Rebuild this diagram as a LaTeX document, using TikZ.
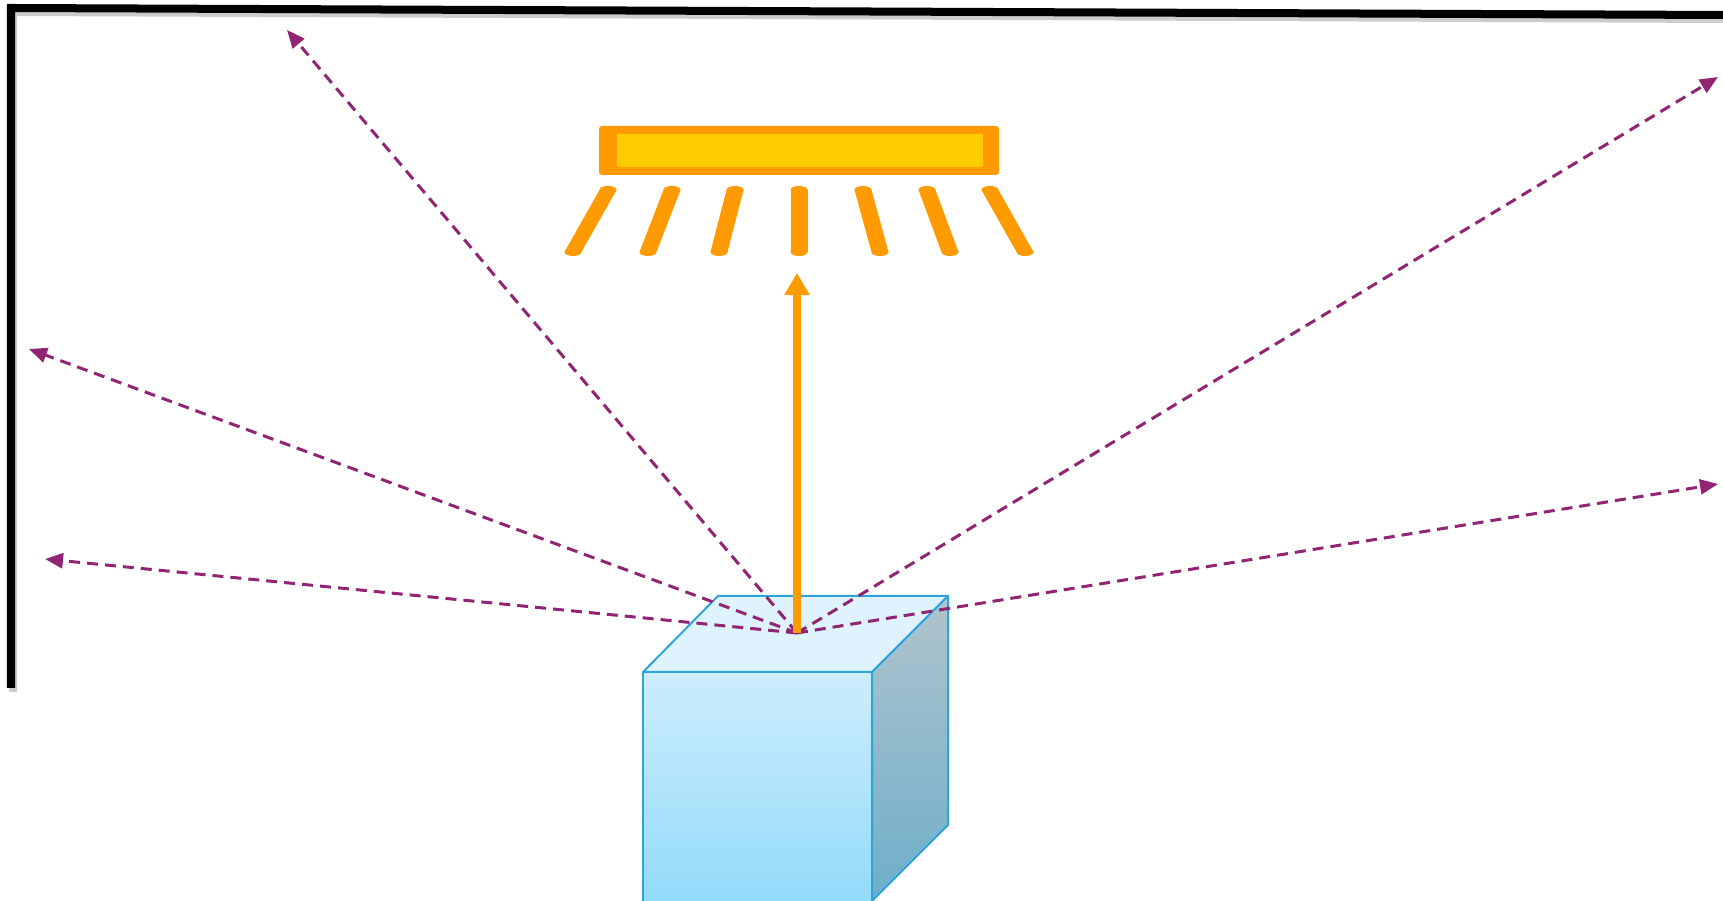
\documentclass[tikz,border=0pt]{standalone}
\usetikzlibrary{arrows.meta}
\definecolor{lamporange}{RGB}{255,154,0}
\definecolor{lampyellow}{RGB}{255,204,0}
\definecolor{raypurple}{RGB}{145,36,115}
\definecolor{cubeedge}{RGB}{46,165,216}
\definecolor{fronttop}{RGB}{205,237,252}
\definecolor{frontbot}{RGB}{146,219,251}
\definecolor{topface}{RGB}{222,243,253}
\definecolor{sidetop}{RGB}{176,196,204}
\definecolor{sidebot}{RGB}{110,174,203}

\begin{document}
\begin{tikzpicture}[x=0.01cm, y=-0.01cm,
      wall/.style={line width=0.08cm, line join=miter},
      reflect/.style={raypurple, line width=0.03cm, dash pattern=on 0.11cm off 0.07cm,
        -{Triangle[length=0.18cm,width=0.15cm]}},
      beam/.style={lamporange, line width=0.08cm, -{Triangle[length=0.22cm,width=0.24cm]}},
      face/.style={draw=cubeedge, line width=0.02cm, line join=round}]
      \useasboundingbox (0,0) rectangle (1723,901);
      \clip (0,0) rectangle (1723,901);

      % wall and ceiling
      \draw[wall, black!20, shift={(2,4)}] (11,688) -- (11,8) -- (1723,15);
      \draw[wall] (11,688) -- (11,8) -- (1723,15);

      % lamp
      \fill[lamporange, rounded corners=0.03cm] (599,126) rectangle (999,175);
      \fill[lampyellow] (617,134) rectangle (983,167);
      \foreach \t/\b in {608/573, 672/648, 735/719, 799/799, 863/880, 927/950, 990/1025} {
        \fill[lamporange] (\t-8.5,190) -- (\t+8.5,190) -- (\b+8.5,252) -- (\b-8.5,252) -- cycle;
        \fill[lamporange] (\t,190) ellipse (0.085cm and 0.04cm);
        \fill[lamporange] (\b,252) ellipse (0.085cm and 0.04cm);
      }

      % cube
      \shade[face, top color=fronttop, bottom color=frontbot] (643,672) rectangle (872,905);
      \fill[topface] (643,672) -- (718,596) -- (948,596) -- (872,672) -- cycle;
      \draw[face] (643,672) -- (718,596) -- (948,596) -- (872,672) -- cycle;
      \shade[face, top color=sidetop, bottom color=sidebot] (872,672) -- (948,596) -- (948,825) -- (872,901) -- cycle;
      \draw[face] (643,905) -- (643,672) -- (872,672) -- (872,905);

      \coordinate (src) at (797,633);
      \coordinate (lamp) at (797,273);
      \coordinate (ul) at (287,30);
      \coordinate (l) at (29,349);
      \coordinate (ll) at (45,559);
      \coordinate (ur) at (1718,77);
      \coordinate (r) at (1718,484);

      \draw[reflect] (src) -- (ul);
      \draw[reflect] (src) -- (l);
      \draw[reflect] (src) -- (ll);
      \draw[reflect] (src) -- (ur);
      \draw[reflect] (src) -- (r);
      \draw[beam] (src) -- (lamp);
\end{tikzpicture}
\end{document}
